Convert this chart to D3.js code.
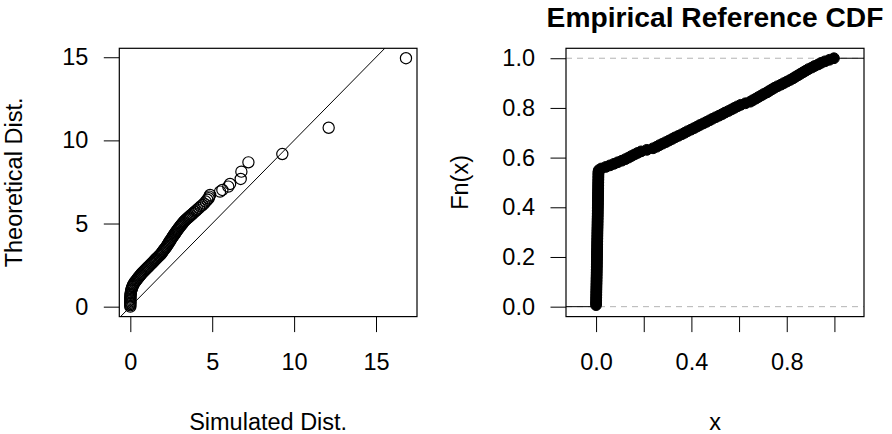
<!DOCTYPE html>
<html>
<head>
<meta charset="utf-8">
<script src="https://cdn.jsdelivr.net/npm/d3@7"></script>
<style>
  body { margin: 0; background: #fff; }
  text { font-family: "Liberation Sans", Arial, Helvetica, sans-serif; }
</style>
</head>
<body>
<div id="chart"></div>
<script>
// QQ panel: sorted quantiles, simulated vs theoretical
var simulated = [
  0, 0, 0, 0, 0, 0, 0, 0, 0.01, 0.01, 0.02, 0.03,
  0.05, 0.07, 0.09, 0.12, 0.15, 0.18, 0.21, 0.25, 0.30, 0.35, 0.40, 0.45,
  0.50, 0.55, 0.60, 0.65, 0.70, 0.76, 0.82, 0.88, 0.94, 1.00,
  1.06, 1.11, 1.17, 1.23, 1.29, 1.34, 1.40, 1.46, 1.51, 1.57, 1.62, 1.68, 1.74, 1.79, 1.85,
  1.90, 1.95, 2.00, 2.05, 2.10, 2.15, 2.20, 2.24, 2.29, 2.33, 2.37, 2.42, 2.46, 2.51, 2.55,
  2.59, 2.64, 2.68, 2.73, 2.77, 2.81, 2.86, 2.90, 2.95, 3.00, 3.05, 3.10, 3.15, 3.20, 3.25, 3.30,
  3.37, 3.43, 3.50, 3.57, 3.63, 3.70, 3.78, 3.86, 3.94, 4.02, 4.10,
  4.20, 4.30, 4.40, 4.50, 4.60, 4.70, 4.78,
  4.82, 4.87, 5.48, 5.62, 5.98, 6.09, 6.74, 6.78, 7.21, 9.28, 12.11, 16.83
];
var theoretical = [
  0.00, 0.08, 0.16, 0.23, 0.31, 0.39, 0.47, 0.55, 0.62, 0.70, 0.78, 0.86,
  0.96, 1.03, 1.10, 1.18, 1.24, 1.31, 1.37, 1.44, 1.50, 1.57, 1.63, 1.70,
  1.76, 1.82, 1.88, 1.94, 2.00, 2.06, 2.12, 2.18, 2.24, 2.30,
  2.36, 2.41, 2.47, 2.53, 2.59, 2.64, 2.70, 2.76, 2.81, 2.87, 2.92, 2.98, 3.04, 3.09, 3.15,
  3.21, 3.28, 3.34, 3.41, 3.47, 3.54, 3.60, 3.67, 3.74, 3.81, 3.88, 3.94, 4.01, 4.08, 4.15,
  4.21, 4.28, 4.34, 4.40, 4.46, 4.53, 4.59, 4.65, 4.71, 4.78, 4.84, 4.90, 4.96, 5.03, 5.09, 5.15,
  5.21, 5.27, 5.33, 5.38, 5.44, 5.50, 5.57, 5.64, 5.71, 5.78, 5.85,
  5.94, 6.03, 6.11, 6.20, 6.32, 6.43, 6.52,
  6.62, 6.72, 6.92, 7.02, 7.22, 7.38, 7.68, 8.12, 8.68, 9.18, 10.76, 14.94
];
var qqTicks = [0, 5, 10, 15];

// ECDF panel: the reference sample (many values right at zero)
var refSample = [
  0.0000, 0.0001, 0.0002, 0.0004, 0.0005, 0.0006, 0.0008, 0.0009, 0.0010, 0.0011,
  0.0013, 0.0014, 0.0015, 0.0016, 0.0018, 0.0019, 0.0020, 0.0021, 0.0022, 0.0024,
  0.0025, 0.0026, 0.0027, 0.0028, 0.0030, 0.0031, 0.0032, 0.0033, 0.0034, 0.0035,
  0.0037, 0.0038, 0.0039, 0.0040, 0.0041, 0.0042, 0.0044, 0.0045, 0.0046, 0.0047,
  0.0048, 0.0049, 0.0050, 0.0052, 0.0053, 0.0054, 0.0055, 0.0056, 0.0057, 0.0058,
  0.0060, 0.0061, 0.0062, 0.0063, 0.0064, 0.0065, 0.0066, 0.0068, 0.0069, 0.0070,
  0.0071, 0.0072, 0.0073, 0.0074, 0.0075, 0.0077, 0.0078, 0.0079, 0.0080, 0.0081,
  0.0082, 0.0083, 0.0084, 0.0086, 0.0087, 0.0088, 0.0089, 0.0090, 0.0091, 0.0092,
  0.0093, 0.0095, 0.0096, 0.0097, 0.0098, 0.0099, 0.0100,
  0.012, 0.022, 0.041, 0.058, 0.075, 0.091, 0.108, 0.123, 0.136, 0.148,
  0.161, 0.174, 0.189, 0.213, 0.239, 0.254, 0.266, 0.279, 0.293, 0.306,
  0.319, 0.331, 0.345, 0.359, 0.372, 0.384, 0.398, 0.411, 0.424, 0.436,
  0.450, 0.463, 0.476, 0.488, 0.502, 0.516, 0.529, 0.541, 0.555, 0.568,
  0.580, 0.593, 0.607, 0.627, 0.647, 0.658, 0.670, 0.681, 0.693, 0.704,
  0.717, 0.727, 0.738, 0.749, 0.762, 0.776, 0.788, 0.801, 0.814, 0.826,
  0.836, 0.847, 0.858, 0.869, 0.880, 0.891, 0.905, 0.917, 0.932, 0.944,
  0.960, 0.979, 0.998
];
var cdfXTicks = [0, 0.2, 0.4, 0.6, 0.8, 1.0];
var cdfXLabelled = [0, 0.4, 0.8];
var cdfYTicks = [0, 0.2, 0.4, 0.6, 0.8, 1.0];

(function () {
  var width = 892,
    height = 434,
    fs = 23.5,
    top = 48.3,
    bottom = 316.6;

  var svg = d3.select("#chart")
    .append("svg")
    .attr("width", width)
    .attr("height", height)

  // R style axis range: data range widened 4% each side
  function widen(ext) {
    var r = ext[1] - ext[0];
    return [ext[0] - 0.04 * r, ext[1] + 0.04 * r];
  }

  function styleAxis(g) {
    g.select(".domain").remove();
    g.selectAll("line").attr("stroke", "black");
    g.selectAll("text")
      .attr("fill", "black")
      .attr("font-size", fs + "px")
      .attr("font-family", "'Liberation Sans', Arial, sans-serif");
  }

  function frame(x0, x1, id) {
    svg.append("clipPath").attr("id", id)
      .append("rect")
      .attr("x", x0).attr("y", top)
      .attr("width", x1 - x0).attr("height", bottom - top)
  }

  // ---------- left: QQ plot ----------
  var lx0 = 119.3, lx1 = 417;
  var xL = d3.scaleLinear().domain(widen(d3.extent(simulated))).range([lx0, lx1]);
  var yL = d3.scaleLinear().domain(widen(d3.extent(theoretical))).range([bottom, top]);
  frame(lx0, lx1, "clipL");

  var qq = simulated.map(function (s, i) {
    return { s: s, t: theoretical[i] };
  });

  var left = svg.append("g").attr("clip-path", "url(#clipL)");

  // y = x reference line
  var dom = xL.domain();
  left.append("line")
    .attr("x1", xL(dom[0])).attr("y1", yL(dom[0]))
    .attr("x2", xL(dom[1])).attr("y2", yL(dom[1]))
    .attr("stroke", "black")
    .attr("stroke-width", 1);

  left.selectAll(".qq")
    .data(qq)
    .enter().append("circle")
    .attr("class", "qq")
    .attr("cx", function (d) { return xL(d.s); })
    .attr("cy", function (d) { return yL(d.t); })
    .attr("r", 5.6)
    .attr("fill", "none")
    .attr("stroke", "black")
    .attr("stroke-width", 1.2);

  svg.append("g")
    .attr("transform", "translate(0," + bottom + ")")
    .call(d3.axisBottom(xL).tickValues(qqTicks).tickSize(15.5).tickPadding(21).tickFormat(d3.format("d")))
    .call(styleAxis);

  svg.append("g")
    .attr("transform", "translate(" + lx0 + ",0)")
    .call(d3.axisLeft(yL).tickValues(qqTicks).tickSize(15.5).tickPadding(15.5).tickFormat(d3.format("d")))
    .call(styleAxis);

  svg.append("rect")
    .attr("x", lx0).attr("y", top)
    .attr("width", lx1 - lx0).attr("height", bottom - top)
    .attr("fill", "none").attr("stroke", "black").attr("stroke-width", 1.2);

  svg.append("text")
    .attr("x", (lx0 + lx1) / 2).attr("y", 430)
    .attr("text-anchor", "middle")
    .attr("font-size", fs + "px")
    .text("Simulated Dist.");

  svg.append("text")
    .attr("transform", "translate(21.5," + (top + bottom) / 2 + ") rotate(-90)")
    .attr("text-anchor", "middle")
    .attr("font-size", fs + "px")
    .text("Theoretical Dist.");

  // ---------- right: ECDF ----------
  var rx0 = 566, rx1 = 864;
  var sorted = refSample.slice().sort(d3.ascending);
  var n = sorted.length;
  var pts = sorted.map(function (x, i) {
    return { x: x, F: (i + 1) / n };
  });
  var ext = d3.extent(sorted);
  var gaps = d3.pairs(sorted, function (a, b) { return b - a; });
  var dr = Math.max(0.08 * (ext[1] - ext[0]), d3.median(gaps));
  var xR = d3.scaleLinear().domain(widen([ext[0] - dr, ext[1] + dr])).range([rx0, rx1]);
  var yR = d3.scaleLinear().domain(widen([0, 1])).range([bottom, top]);
  frame(rx0, rx1, "clipR");

  var right = svg.append("g").attr("clip-path", "url(#clipR)");

  right.selectAll(".hline")
    .data([0, 1])
    .enter().append("line")
    .attr("x1", rx0).attr("x2", rx1)
    .attr("y1", function (d) { return yR(d); })
    .attr("y2", function (d) { return yR(d); })
    .attr("stroke", "#b3b3b3")
    .attr("stroke-dasharray", "6,5");

  // horizontal steps of the step function
  var steps = [{ a: xR.domain()[0], b: pts[0].x, F: 0 }];
  d3.pairs(pts).forEach(function (p) {
    steps.push({ a: p[0].x, b: p[1].x, F: p[0].F });
  });
  steps.push({ a: pts[n - 1].x, b: xR.domain()[1], F: 1 });

  right.selectAll(".step")
    .data(steps)
    .enter().append("line")
    .attr("class", "step")
    .attr("x1", function (d) { return xR(d.a); })
    .attr("x2", function (d) { return xR(d.b); })
    .attr("y1", function (d) { return yR(d.F); })
    .attr("y2", function (d) { return yR(d.F); })
    .attr("stroke", "black");

  right.selectAll(".dot")
    .data(pts)
    .enter().append("circle")
    .attr("class", "dot")
    .attr("cx", function (d) { return xR(d.x); })
    .attr("cy", function (d) { return yR(d.F); })
    .attr("r", 5.4)
    .attr("fill", "black")
    .attr("stroke", "black");

  var xAxisR = svg.append("g")
    .attr("transform", "translate(0," + bottom + ")")
    .call(d3.axisBottom(xR).tickValues(cdfXTicks).tickSize(15.5).tickPadding(21)
      .tickFormat(function (d) {
        return cdfXLabelled.some(function (v) { return Math.abs(v - d) < 1e-9; }) ? d3.format(".1f")(d) : "";
      }))
    .call(styleAxis);

  svg.append("g")
    .attr("transform", "translate(" + rx0 + ",0)")
    .call(d3.axisLeft(yR).tickValues(cdfYTicks).tickSize(15.5).tickPadding(15.5).tickFormat(d3.format(".1f")))
    .call(styleAxis);

  svg.append("rect")
    .attr("x", rx0).attr("y", top)
    .attr("width", rx1 - rx0).attr("height", bottom - top)
    .attr("fill", "none").attr("stroke", "black").attr("stroke-width", 1.2);

  svg.append("text")
    .attr("x", (rx0 + rx1) / 2).attr("y", 430)
    .attr("text-anchor", "middle")
    .attr("font-size", fs + "px")
    .text("x");

  svg.append("text")
    .attr("transform", "translate(467.5," + (top + bottom) / 2 + ") rotate(-90)")
    .attr("text-anchor", "middle")
    .attr("font-size", fs + "px")
    .text("Fn(x)");

  svg.append("text")
    .attr("x", (rx0 + rx1) / 2).attr("y", 26.7)
    .attr("text-anchor", "middle")
    .attr("font-size", (fs * 1.2) + "px")
    .attr("font-weight", "bold")
    .text("Empirical Reference CDF");
})();
</script>
</body>
</html>
